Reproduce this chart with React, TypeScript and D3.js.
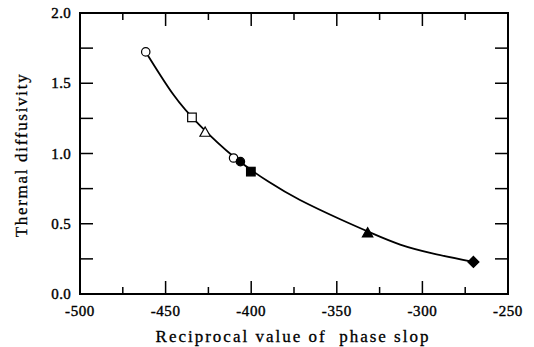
import React from "react";
import * as d3 from "d3";

const xTicks = [-500, -450, -400, -350, -300, -250];
const xMinor = [-475, -425, -375, -325, -275];
const yTicks = [0.0, 0.5, 1.0, 1.5, 2.0];
const yMinor = [0.25, 0.75, 1.25, 1.75];

const pointX = [-461.6, -434.6, -426.9, -410.3, -406.3, -400.2, -332.0, -270.2];
const pointY = [1.723, 1.257, 1.15, 0.968, 0.942, 0.871, 0.433, 0.228];
const pointShape = ["circleOpen", "squareOpen", "triangleOpen", "circleOpen", "circleFilled", "squareFilled", "triangleFilled", "diamondFilled"];

const curveX = [-461.6, -445.5, -430, -410, -390, -371.5, -348, -330, -313, -293.6, -270.2];
const curveY = [1.723, 1.42, 1.2, 0.975, 0.8, 0.669, 0.532, 0.435, 0.352, 0.288, 0.228];

const W = 534, H = 347;
const L = 80, R = 508, T = 13, B = 294;

export default function App() {
  const x = d3.scaleLinear().domain([-500, -250]).range([L, R]);
  const y = d3.scaleLinear().domain([0, 2]).range([B, T]);
  const line = d3.line<number>().x((_, i) => x(curveX[i])).y((_, i) => y(curveY[i])).curve(d3.curveNatural);
  const font = "Liberation Serif, Times New Roman, DejaVu Serif, serif";
  const tstyle = { fontFamily: font } as React.CSSProperties;

  const marker = (shape: string, cx: number, cy: number, k: number) => {
    const filled = shape.includes("Filled");
    const fill = filled ? "#000" : "#fff";
    const sw = 1.2;
    if (shape.startsWith("circle")) return <circle key={k} cx={cx} cy={cy} r={4.2} fill={fill} stroke="#000" strokeWidth={sw} />;
    if (shape.startsWith("square")) return <rect key={k} x={cx - 4.3} y={cy - 4.3} width={8.6} height={8.6} fill={fill} stroke="#000" strokeWidth={sw} />;
    if (shape.startsWith("triangle")) return <path key={k} d={`M${cx},${cy - 5.5}L${cx + 5.2},${cy + 3.8}L${cx - 5.2},${cy + 3.8}Z`} fill={fill} stroke="#000" strokeWidth={sw} />;
    return <path key={k} d={`M${cx},${cy - 5.5}L${cx + 5.5},${cy}L${cx},${cy + 5.5}L${cx - 5.5},${cy}Z`} fill={fill} stroke="#000" strokeWidth={sw} />;
  };

  return (
    <svg width={W} height={H} style={{ position: "absolute", left: 0, top: 0, background: "#fff" }}>
      <rect x={0} y={0} width={W} height={H} fill="#fff" />
      {xTicks.map((t, i) => (
        <g key={"xt" + i}>
          <line x1={x(t)} x2={x(t)} y1={B} y2={B - 13} stroke="#000" strokeWidth={1.5} />
          <line x1={x(t)} x2={x(t)} y1={T} y2={T + 13} stroke="#000" strokeWidth={1.5} />
          <text x={x(t)} y={B + 22} textAnchor="middle" style={tstyle} fontSize={15} stroke="#000" strokeWidth={0.4} letterSpacing={0.6}>{t}</text>
        </g>
      ))}
      {xMinor.map((t, i) => (
        <g key={"xm" + i}>
          <line x1={x(t)} x2={x(t)} y1={B} y2={B - 7} stroke="#000" strokeWidth={1.5} />
          <line x1={x(t)} x2={x(t)} y1={T} y2={T + 7} stroke="#000" strokeWidth={1.5} />
        </g>
      ))}
      {yTicks.map((t, i) => (
        <g key={"yt" + i}>
          <line x1={L} x2={L + 13} y1={y(t)} y2={y(t)} stroke="#000" strokeWidth={1.5} />
          <line x1={R} x2={R - 13} y1={y(t)} y2={y(t)} stroke="#000" strokeWidth={1.5} />
          <text x={L - 9} y={y(t) + 5} textAnchor="end" style={tstyle} fontSize={15} stroke="#000" strokeWidth={0.4} letterSpacing={0.3}>{t.toFixed(1)}</text>
        </g>
      ))}
      {yMinor.map((t, i) => (
        <g key={"ym" + i}>
          <line x1={L} x2={L + 13} y1={y(t)} y2={y(t)} stroke="#000" strokeWidth={1.5} />
          <line x1={R} x2={R - 13} y1={y(t)} y2={y(t)} stroke="#000" strokeWidth={1.5} />
        </g>
      ))}
      <rect x={L} y={T} width={R - L} height={B - T} fill="none" stroke="#000" strokeWidth={2} />
      <path d={line(curveX) || ""} fill="none" stroke="#000" strokeWidth={1.8} />
      {pointX.map((px, i) => marker(pointShape[i], x(px), y(pointY[i]), i))}
      <text x={293} y={342} textAnchor="middle" style={tstyle} fontSize={17} letterSpacing={2} stroke="#000" strokeWidth={0.3} xmlSpace="preserve">Reciprocal value of  phase slop</text>
      <text transform={`translate(27,${155}) rotate(-90)`} textAnchor="middle" style={tstyle} fontSize={17} letterSpacing={1.7} stroke="#000" strokeWidth={0.3}>Thermal diffusivity</text>
    </svg>
  );
}
